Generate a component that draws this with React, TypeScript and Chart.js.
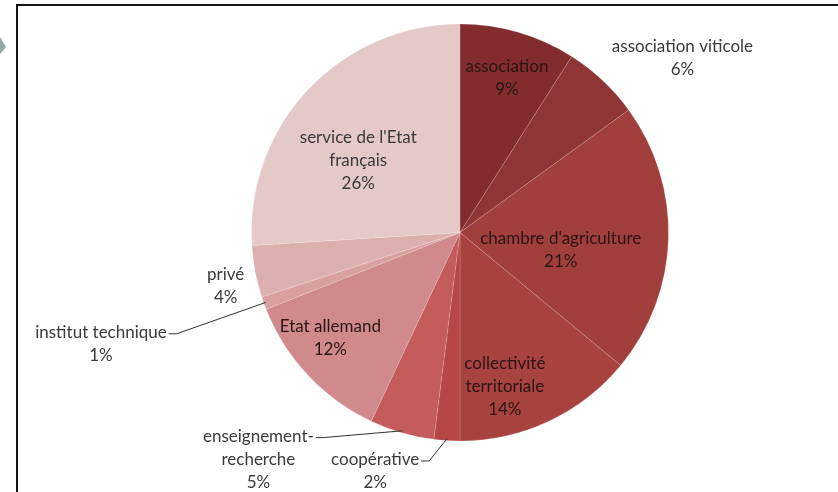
import React, { useEffect, useRef } from "react";
import { Chart, registerables } from "chart.js";

Chart.register(...registerables);

const categories: string[] = [
  "association",
  "association viticole",
  "chambre d'agriculture",
  "collectivité territoriale",
  "coopérative",
  "enseignement-recherche",
  "Etat allemand",
  "institut technique",
  "privé",
  "service de l'Etat français",
];

const shares: number[] = [9, 6, 21, 14, 2, 5, 12, 1, 4, 26];

const labelLines: string[][] = [
  ["association"],
  ["association viticole"],
  ["chambre d'agriculture"],
  ["collectivité", "territoriale"],
  ["coopérative"],
  ["enseignement-", "recherche"],
  ["Etat allemand"],
  ["institut technique"],
  ["privé"],
  ["service de l'Etat", "français"],
];

const sliceColors: string[] = [
  "#822C2E",
  "#8F3535",
  "#A03F3B",
  "#A8423F",
  "#B54747",
  "#C45C5C",
  "#D08A8B",
  "#D9A0A0",
  "#DDB0B0",
  "#E5C8C8",
];

// label block centre, in units of the pie radius, relative to the pie centre
const labelOffsets: [number, number][] = [
  [0.225, -0.74],
  [1.067, -0.835],
  [0.483, 0.084],
  [0.215, 0.739],
  [-0.407, 1.146],
  [-0.967, 1.089],
  [-0.622, 0.507],
  [-1.722, 0.536],
  [-1.124, 0.256],
  [-0.488, -0.347],
];

const hasLeader: boolean[] = [false, false, false, false, true, true, false, true, false, false];

const FONT = "17px Lato, 'Open Sans', sans-serif";
const LINE_H = 23;

const framePlugin = {
  id: "frame",
  beforeDraw(chart: any) {
    const ctx = chart.ctx;
    ctx.save();
    ctx.fillStyle = "#ffffff";
    ctx.fillRect(0, 0, chart.width, chart.height);
    ctx.strokeStyle = "#151515";
    ctx.lineWidth = 2;
    ctx.beginPath();
    ctx.moveTo(17, chart.height + 2);
    ctx.lineTo(17, 5);
    ctx.lineTo(chart.width + 2, 5);
    ctx.stroke();
    ctx.fillStyle = "#8FA9A9";
    ctx.beginPath();
    ctx.moveTo(0, 37);
    ctx.lineTo(6, 47);
    ctx.lineTo(0, 54);
    ctx.closePath();
    ctx.fill();
    ctx.restore();
  },
};

const labelPlugin = {
  id: "sliceLabels",
  afterDatasetsDraw(chart: any) {
    const ctx = chart.ctx;
    const meta = chart.getDatasetMeta(0);
    const data = chart.data.datasets[0].data as number[];
    const total = data.reduce((a: number, b: number) => a + b, 0);
    ctx.save();
    ctx.font = FONT;
    ctx.textAlign = "center";
    ctx.textBaseline = "middle";
    meta.data.forEach((arc: any, i: number) => {
      const p = arc.getProps(["x", "y", "outerRadius", "startAngle", "endAngle"], true);
      const r = p.outerRadius;
      const cx = p.x + labelOffsets[i][0] * r;
      const cy = p.y + labelOffsets[i][1] * r;
      const lines = [...labelLines[i], Math.round((data[i] / total) * 100) + "%"];
      const top = cy - ((lines.length - 1) * LINE_H) / 2;
      ctx.fillStyle = i < 7 && !hasLeader[i] && i !== 1 ? "#2a1414" : "#3a3a3a";
      lines.forEach((t, k) => ctx.fillText(t, cx, top + k * LINE_H));
      if (hasLeader[i]) {
        const w = ctx.measureText(lines[0]).width;
        const sx = cx + w / 2 + 2;
        const sy = top + 1;
        const mid = (p.startAngle + p.endAngle) / 2;
        const ex = p.x + Math.cos(mid) * (r - 2);
        const ey = p.y + Math.sin(mid) * (r - 2);
        ctx.strokeStyle = "#333333";
        ctx.lineWidth = 1;
        ctx.beginPath();
        ctx.moveTo(sx, sy);
        ctx.lineTo(sx + 8, sy);
        ctx.lineTo(ex, ey);
        ctx.stroke();
      }
    });
    ctx.restore();
  },
};

export default function App() {
  const ref = useRef<HTMLCanvasElement | null>(null);
  useEffect(() => {
    document.body.style.margin = "0";
    if (!ref.current) return;
    const chart = new Chart(ref.current, {
      type: "pie",
      data: {
        labels: categories,
        datasets: [
          {
            data: shares,
            backgroundColor: sliceColors,
            borderColor: "rgba(255,255,255,0.15)",
            borderWidth: 1,
          },
        ],
      },
      options: {
        responsive: false,
        animation: false,
        layout: { padding: { left: 251, right: 169, top: 23, bottom: 50 } },
        plugins: { legend: { display: false }, tooltip: { enabled: false } },
      },
      plugins: [framePlugin, labelPlugin],
    });
    return () => chart.destroy();
  }, []);
  return <canvas ref={ref} width={838} height={492} style={{ display: "block" }} />;
}
